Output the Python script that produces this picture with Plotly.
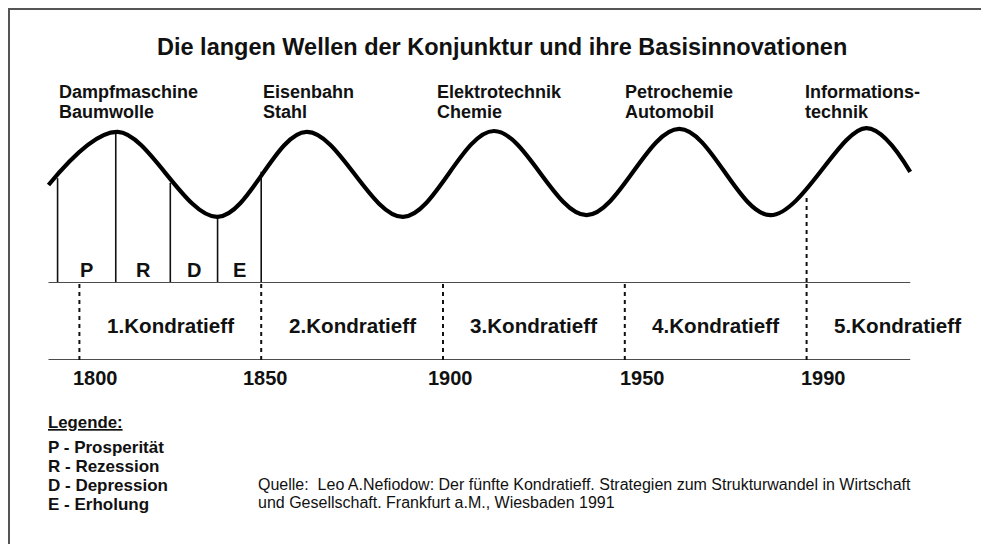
import plotly.graph_objects as go

# ---------------- data ----------------
title_text = "Die langen Wellen der Konjunktur und ihre Basisinnovationen"

# schematic time axis: each Kondratieff cycle drawn with equal width
cycle_start = [1, 2, 3, 4, 5]
year_labels = ["1800", "1850", "1900", "1950", "1990"]
kondratieff_labels = ["1.Kondratieff", "2.Kondratieff", "3.Kondratieff",
                      "4.Kondratieff", "5.Kondratieff"]
innovation_line1 = ["Dampfmaschine", "Eisenbahn", "Elektrotechnik", "Petrochemie", "Informations-"]
innovation_line2 = ["Baumwolle", "Stahl", "Chemie", "Automobil", "technik"]

# turning points of the long wave (cycle units / relative activity)
wave_x = [0.83, 1.21, 1.76, 2.25, 2.78, 3.28, 3.79, 4.30, 4.80, 5.33, 5.57]
wave_y = [-0.27, 0.98, -1.02, 0.98, -1.02, 1.00, -0.98, 1.05, -0.98, 1.07, 0.04]

# phases of the first cycle
phase_bounds = [0.88, 1.20, 1.50, 1.76, 2.00]
phase_tops = [-0.11, 0.98, -0.22, -1.02, 0.04]
phase_letters = ["P", "R", "D", "E"]

# where the 5th cycle boundary meets the wave
cycle5_top = -0.55

legend_title = "Legende:"
legend_items = ["P - Prosperität", "R - Rezession", "D - Depression", "E - Erholung"]
source_lines = ["Quelle:  Leo A.Nefiodow: Der fünfte Kondratieff. Strategien zum Strukturwandel in Wirtschaft",
                "und Gesellschaft. Frankfurt a.M., Wiesbaden 1991"]

# ---------------- layout helpers ----------------
W, H = 989, 544
OFF = 8  # page body margin: the figure sits 8px right/down in the window
FONT = "Liberation Sans, Arial, Helvetica, sans-serif"


def py(px):
    return 1 - (px - OFF) / H


def pxx(px):
    return (px - OFF) / W


def u_of(px):
    return 1 + (px - 79.4) / 181.8


X_RANGE = [u_of(OFF), u_of(OFF + W)]
Y_RANGE = [-2.553, 1.259]

fig = go.Figure()

# phase division lines (thin, solid)
lx, ly = [], []
for b, t in zip(phase_bounds, phase_tops):
    lx += [b, b, None]
    ly += [Y_RANGE[0], t, None]
fig.add_trace(go.Scatter(x=lx, y=ly, mode="lines",
                         line=dict(color="#111", width=1.6),
                         hoverinfo="skip", showlegend=False))

# long wave
fig.add_trace(go.Scatter(x=wave_x, y=wave_y, mode="lines",
                         line=dict(color="#000", width=4.2, shape="spline", smoothing=1.0),
                         hoverinfo="skip", showlegend=False))

shapes = []
# two horizontal baselines of the Kondratieff band
for yv in (0, 1):
    shapes.append(dict(type="line", xref="x", yref="y2", x0=wave_x[0], x1=wave_x[-1],
                       y0=yv, y1=yv, line=dict(color="#111", width=1.6)))
# dashed cycle boundaries inside band
for c in cycle_start:
    shapes.append(dict(type="line", xref="x", yref="y2", x0=c, x1=c, y0=0, y1=1,
                       line=dict(color="#111", width=2, dash="4px,4px")))
# dashed continuation of the 5th cycle up to the wave
shapes.append(dict(type="line", xref="x", yref="y", x0=cycle_start[4], x1=cycle_start[4],
                   y0=Y_RANGE[0], y1=cycle5_top,
                   line=dict(color="#111", width=2, dash="4px,4px")))
# frame (left + top)
shapes.append(dict(type="line", xref="paper", yref="paper", x0=1 / W, x1=1 / W,
                   y0=0, y1=1, line=dict(color="#555", width=2)))
shapes.append(dict(type="line", xref="paper", yref="paper", x0=0, x1=1,
                   y0=1 - 1 / H, y1=1 - 1 / H, line=dict(color="#555", width=2)))

ann = []
ann.append(dict(text="<b>" + title_text + "</b>", xref="paper", yref="paper",
                x=pxx(502), y=py(47), xanchor="center", yanchor="middle", showarrow=False,
                font=dict(family=FONT, size=23.5, color="#111")))

inno_shift = [-22, 0, -8, -2, -4]
for c, t1, t2, s in zip(cycle_start, innovation_line1, innovation_line2, inno_shift):
    for t, yy in ((t1, 92), (t2, 112)):
        ann.append(dict(text="<b>" + t + "</b>", xref="x", yref="paper", x=c, y=py(yy),
                        xanchor="left", yanchor="middle", xshift=s, showarrow=False,
                        font=dict(family=FONT, size=18, color="#111")))

for i, letter in enumerate(phase_letters):
    xm = (phase_bounds[i] + phase_bounds[i + 1]) / 2
    ann.append(dict(text="<b>" + letter + "</b>", xref="x", yref="paper", x=xm, y=py(270),
                    xanchor="center", yanchor="middle", showarrow=False,
                    font=dict(family=FONT, size=20, color="#111")))

for c, k in zip(cycle_start, kondratieff_labels):
    ann.append(dict(text="<b>" + k + "</b>", xref="x", yref="paper", x=c + 0.5, y=py(325),
                    xanchor="center", yanchor="middle", showarrow=False,
                    font=dict(family=FONT, size=20.6, color="#111")))

year_shift = [-8, -20, -17, -7, -8]
for c, yl, s in zip(cycle_start, year_labels, year_shift):
    ann.append(dict(text="<b>" + yl + "</b>", xref="x", yref="paper", x=c, y=py(378),
                    xanchor="left", yanchor="middle", xshift=s, showarrow=False,
                    font=dict(family=FONT, size=20, color="#111")))

ann.append(dict(text="<b><u>" + legend_title + "</u></b>", xref="paper", yref="paper",
                x=pxx(46), y=py(422), xanchor="left", yanchor="middle", showarrow=False,
                font=dict(family=FONT, size=16.8, color="#111")))
for it, yy in zip(legend_items, [447, 466, 485, 504]):
    ann.append(dict(text="<b>" + it + "</b>", xref="paper", yref="paper",
                    x=pxx(46), y=py(yy), xanchor="left", yanchor="middle", showarrow=False,
                    font=dict(family=FONT, size=17, color="#111")))

for s, yy in zip(source_lines, [484, 502]):
    ann.append(dict(text=s, xref="paper", yref="paper", x=pxx(256), y=py(yy),
                    xanchor="left", yanchor="middle", showarrow=False,
                    font=dict(family=FONT, size=16, color="#111")))

fig.update_layout(
    width=W, height=H, margin=dict(l=0, r=0, t=0, b=0),
    paper_bgcolor="white", plot_bgcolor="rgba(0,0,0,0)",
    xaxis=dict(range=X_RANGE, visible=False, fixedrange=True),
    yaxis=dict(range=Y_RANGE, domain=[py(282), py(120)], visible=False, fixedrange=True),
    yaxis2=dict(range=[0, 1], domain=[py(360), py(282)], visible=False, anchor="x",
                fixedrange=True),
    shapes=shapes, annotations=ann, showlegend=False, hovermode=False,
)

fig.write_html("out.html", config={"displayModeBar": False})
